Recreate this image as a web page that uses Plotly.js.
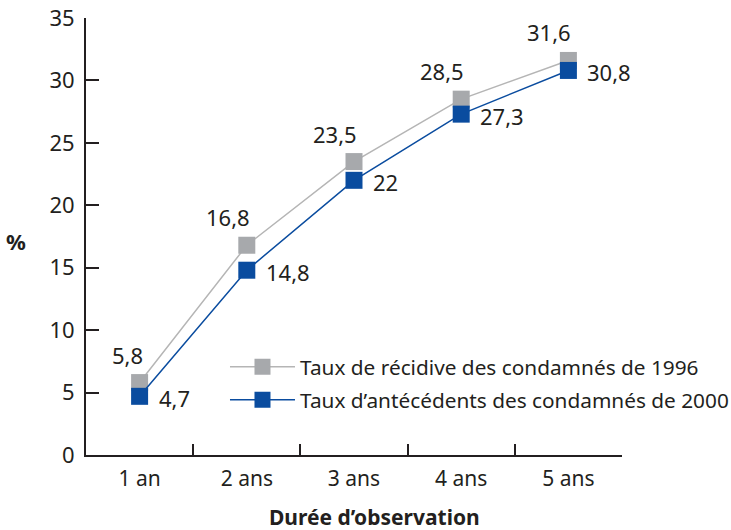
<!DOCTYPE html>
<html>
<head>
<meta charset="utf-8">
<script src="https://cdn.plot.ly/plotly-3.0.1.min.js"></script>
<style>html,body{margin:0;padding:0;background:#fff}#chart{width:731px;height:530px}</style>
</head>
<body>
<div id="chart"></div>
<script>
const categories = ["1 an", "2 ans", "3 ans", "4 ans", "5 ans"];
const recidive1996 = [5.8, 16.8, 23.5, 28.5, 31.6];
const antecedents2000 = [4.7, 14.8, 22, 27.3, 30.8];
const seriesNames = ["Taux de récidive des condamnés de 1996", "Taux d\u2019antécédents des condamnés de 2000"];
const yTicks = [0, 5, 10, 15, 20, 25, 30, 35];
const xTitle = "Durée d\u2019observation";
const yTitle = "%";

const FONT = "Noto Sans";
const INK = "#231F20";
const GRAY = "#A7A9AC";
const GRAYLINE = "#B5B5B5";
const BLUE = "#0A4C9F";

function fr(v) { return String(v).replace(".", ","); }

const traces = [
  {
    type: "scatter", mode: "lines+markers", name: seriesNames[0], legendgroup: "a",
    x: categories, y: recidive1996,
    line: {color: GRAYLINE, width: 1.5},
    marker: {symbol: "square", size: 17, color: GRAY},
    hoverinfo: "skip"
  },
  {
    type: "scatter", mode: "lines+markers", name: seriesNames[1], legendgroup: "b",
    x: categories, y: antecedents2000,
    line: {color: BLUE, width: 1.5},
    marker: {symbol: "square", size: 17, color: BLUE},
    hoverinfo: "skip"
  }
];

const annotations = [];
categories.forEach((c, i) => {
  annotations.push({
    x: c, y: recidive1996[i], xref: "x", yref: "y",
    text: fr(recidive1996[i]), showarrow: false,
    xanchor: "right", yanchor: "middle", xshift: 5, yshift: 28,
    font: {family: FONT, size: 22, color: INK}
  });
  annotations.push({
    x: c, y: antecedents2000[i], xref: "x", yref: "y",
    text: fr(antecedents2000[i]), showarrow: false,
    xanchor: "left", yanchor: "middle", xshift: 17, yshift: -2,
    font: {family: FONT, size: 22, color: INK}
  });
});
annotations.push({
  x: 0.539, y: -0.143, xref: "paper", yref: "paper",
  text: "<b>" + xTitle + "</b>", showarrow: false,
  xanchor: "center", yanchor: "middle",
  font: {family: FONT, size: 21, color: INK}
});
annotations.push({
  x: -0.13, y: 0.489, xref: "paper", yref: "paper",
  text: "<b>" + yTitle + "</b>", showarrow: false,
  xanchor: "center", yanchor: "middle",
  font: {family: FONT, size: 22, color: INK}
});

const layout = {
  width: 731, height: 530,
  margin: {l: 86, r: 109, t: 18, b: 75, pad: 0, autoexpand: false},
  paper_bgcolor: "#fff", plot_bgcolor: "#fff",
  font: {family: FONT, size: 21, color: INK},
  showlegend: true,
  legend: {
    x: 0.2593, y: 0.248, xref: "paper", yref: "paper",
    xanchor: "left", yanchor: "top",
    bgcolor: "rgba(0,0,0,0)", borderwidth: 0,
    itemwidth: 65, traceorder: "grouped", tracegroupgap: 3,
    font: {family: FONT, size: 20.8, color: INK}
  },
  xaxis: {
    type: "category", range: [-0.5, 4.5],
    tickson: "boundaries", ticks: "inside", ticklen: 11, tickwidth: 2, tickcolor: INK,
    showline: true, linewidth: 2, linecolor: INK,
    showgrid: false, zeroline: false, fixedrange: true,
    tickfont: {family: FONT, size: 21, color: INK},
    ticklabelstandoff: 4
  },
  yaxis: {
    range: [0, 35], tickvals: yTicks, ticktext: yTicks.map(String),
    ticks: "inside", ticklen: 13, tickwidth: 2, tickcolor: INK,
    showline: true, linewidth: 2, linecolor: INK,
    showgrid: false, zeroline: false, fixedrange: true,
    tickfont: {family: FONT, size: 22, color: INK},
    ticklabelstandoff: 5
  },
  annotations: annotations
};

Plotly.newPlot("chart", traces, layout, {staticPlot: true, displayModeBar: false});
</script>
</body>
</html>
